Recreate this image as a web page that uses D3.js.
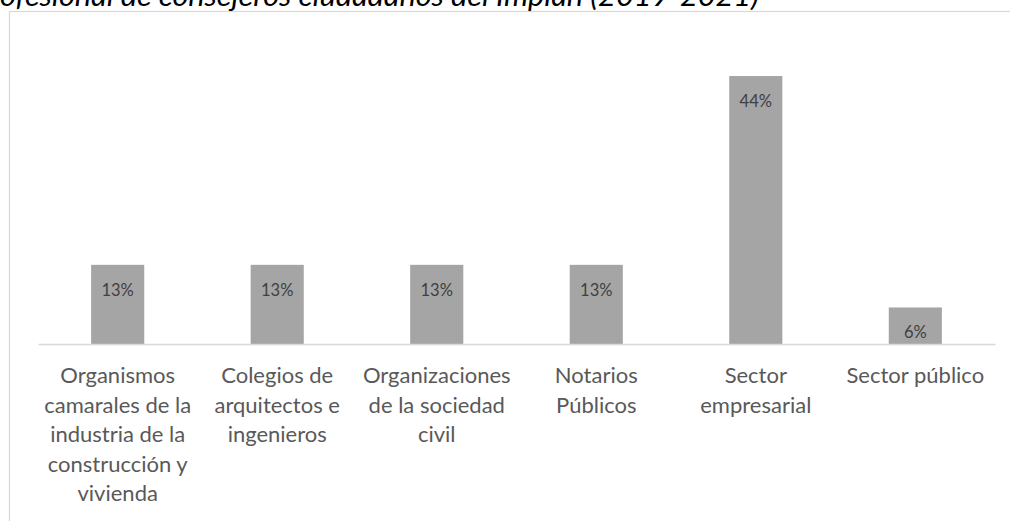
<!DOCTYPE html>
<html>
<head>
<meta charset="utf-8">
<script src="https://cdn.jsdelivr.net/npm/d3@7"></script>
<style>
  body { margin: 0; background: #ffffff; }
  svg { display: block; }
</style>
</head>
<body>
<svg id="bar-chart"></svg>
<script>
const width = 1010, height = 521
const margin = { top: 39.5, bottom: 177, left: 38, right: 15 }

// data
const categories = [
    "Organismos\ncamarales de la\nindustria de la\nconstrucción y\nvivienda",
    "Colegios de\narquitectos e\ningenieros",
    "Organizaciones\nde la sociedad\ncivil",
    "Notarios\nPúblicos",
    "Sector\nempresarial",
    "Sector público",
]
const values = [13, 13, 13, 13, 44, 6]
const titleText = "ofesional de consejeros ciudadanos del Implan (2019-2021)"

const font = "Lato, 'Open Sans', sans-serif"

const svg = d3.select("svg#bar-chart")
    .attr("viewBox", [0, 0, width, height])
    .attr("width", width)
    .attr("height", height)
    .style("background", "#ffffff")

// chart frame (runs off the right and bottom of the picture)
svg.append("rect")
    .attr("x", 9.5)
    .attr("y", 11.5)
    .attr("width", width + 20)
    .attr("height", height + 20)
    .attr("fill", "none")
    .attr("stroke", "#d9d9d9")
    .attr("stroke-width", 1.2)

// cropped title, as in the source picture
svg.append("text")
    .attr("x", 0)
    .attr("y", 5.5)
    .attr("font-family", font)
    .attr("font-style", "italic")
    .attr("font-size", 28)
    .attr("textLength", 759)
    .attr("lengthAdjust", "spacingAndGlyphs")
    .attr("fill", "#000000")
    .text(titleText)

const xScale = d3.scaleBand()
    .domain(categories)
    .range([margin.left, width - margin.right])
    .paddingInner(0.667)
    .paddingOuter(0.333)

const yScale = d3.scaleLinear()
    .domain([0, 50])
    .range([height - margin.bottom, margin.top])

const data = categories.map((c, i) => ({ cat: c, value: values[i] }))

svg.selectAll("rect.bar")
    .data(data)
    .join("rect").attr("class", "bar")
    .attr("x", d => xScale(d.cat))
    .attr("width", xScale.bandwidth())
    .attr("y", d => yScale(d.value))
    .attr("height", d => yScale(0) - yScale(d.value))
    .attr("fill", "#a5a5a5")

svg.selectAll("text.bar-label")
    .data(data)
    .join("text").attr("class", "bar-label")
    .attr("x", d => xScale(d.cat) + xScale.bandwidth() / 2)
    .attr("y", d => yScale(d.value) + 31)
    .attr("text-anchor", "middle")
    .attr("font-family", font)
    .attr("font-size", 16.5)
    .attr("fill", "#404040")
    .text(d => d.value + "%")

const xAxis = svg.append("g")
    .attr("transform", `translate(0, ${yScale(0)})`)
    .call(d3.axisBottom(xScale).tickSize(0).tickPadding(0))

xAxis.select(".domain")
    .attr("stroke", "#d9d9d9")
    .attr("stroke-width", 1.3)

xAxis.selectAll(".tick text")
    .attr("y", 39)
    .attr("dy", null)
    .attr("font-family", font)
    .attr("font-size", 22)
    .attr("fill", "#595959")
    .each(function (d) {
        const t = d3.select(this).text("")
        d.split("\n").forEach((line, i) => {
            t.append("tspan")
                .attr("x", 0)
                .attr("y", 39 + i * 29.5)
                .text(line)
        })
    })
</script>
</body>
</html>
